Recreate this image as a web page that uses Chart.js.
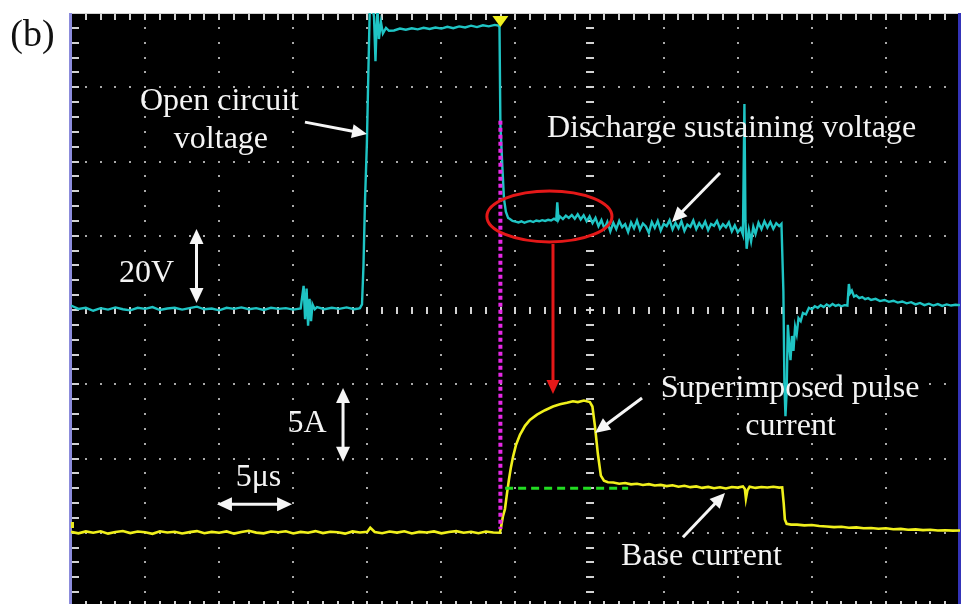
<!DOCTYPE html>
<html>
<head>
<meta charset="utf-8">
<script src="https://cdn.jsdelivr.net/npm/chart.js@4.4.0/dist/chart.umd.min.js"></script>
<style>
  html, body { margin: 0; padding: 0; background: #fff; overflow: hidden; }
  canvas { display: block; }
</style>
</head>
<body>
<canvas id="scope" width="963" height="608"></canvas>
<script>
// oscilloscope capture: time in us (5 us/div), voltage 20 V/div, current 5 A/div

const voltTime = [
  0, 0.5, 1, 1.5, 2, 2.5, 3, 3.5, 4, 4.5,
  5, 5.5, 6, 6.5, 7, 7.5, 8, 8.5, 9, 9.5,
  10, 10.5, 11, 11.5, 12, 12.5, 13, 13.5, 14, 14.5,
  15, 15.5,
  15.7, 15.8, 15.9, 16.0, 16.1, 16.2, 16.3, 16.45,
  16.6, 17.1, 17.6, 18.1, 18.6, 19.1, 19.4,
  19.5, 19.64, 19.74, 19.84, 19.97, 20.08, 20.18,
  20.31, 20.45, 20.55, 20.62, 20.69, 20.78, 20.92, 21.05, 21.26, 21.46,
  21.8, 22.2, 22.6, 23.0, 23.4, 23.8, 24.2, 24.6, 25.0, 25.4,
  25.8, 26.2, 26.6, 27.0, 27.4, 27.8, 28.2, 28.6, 28.85,
  28.92, 28.98, 29.12, 29.22, 29.35, 29.5,
  29.6, 29.8, 30.0, 30.2, 30.4, 30.6, 30.8, 31.0, 31.2, 31.4,
  31.6, 31.8, 32.0, 32.2, 32.4, 32.6, 32.75, 32.82, 32.9, 33.0,
  33.2, 33.4, 33.6, 33.8, 34.0, 34.2, 34.4, 34.6, 34.8, 35.0,
  35.2, 35.4, 35.6, 35.8, 36.0, 36.2, 36.4, 36.6, 36.8, 37.0,
  37.2, 37.4, 37.6, 37.8, 38.0, 38.2, 38.4, 38.6, 38.8, 39.0,
  39.2, 39.4, 39.6, 39.8, 40.0, 40.2, 40.4, 40.6, 40.8, 41.0,
  41.2, 41.4, 41.6, 41.8, 42.0, 42.2, 42.4, 42.6, 42.8, 43.0,
  43.2, 43.4, 43.6, 43.8, 44.0, 44.2, 44.4, 44.6, 44.8, 45.0,
  45.2, 45.35, 45.45, 45.52, 45.6, 45.75, 45.9, 46.05, 46.2, 46.4,
  46.6, 46.8, 47.0, 47.2, 47.4, 47.6, 47.8, 47.95,
  48.08, 48.15, 48.22, 48.3, 48.38, 48.47, 48.56, 48.66, 48.76, 48.87,
  48.98, 49.1, 49.25, 49.4, 49.6, 49.8, 50.0, 50.2, 50.4, 50.6,
  50.8, 51.0, 51.2, 51.4, 51.6, 51.8, 52.0, 52.2, 52.4, 52.5,
  52.58, 52.7, 52.85, 53.0, 53.2, 53.4, 53.6, 53.8, 54.0, 54.3,
  54.6, 54.9, 55.2, 55.5, 55.8, 56.1, 56.4, 56.7, 57.0, 57.3,
  57.6, 57.9, 58.2, 58.5, 58.8, 59.1, 59.4, 59.7, 60.0
];
const voltValues = [
  1.2, 0.3, 0.6, -0.2, 0.5, 0.1, 0.7, 0.2, -0.1, 0.6,
  0.3, 0.8, 0.0, 0.4, 0.6, 0.1, 0.5, 0.9, 0.2, 0.4,
  -0.1, 0.6, 0.3, 0.7, 0.2, 0.5, 0.0, 0.6, 0.3, 0.5,
  0.1, 0.4,
  6.5, -2.5, 5.8, -4.2, 3.0, -3.0, 1.5, 0.2,
  0.8, 0.2, 0.6, 0.3, 0.7, 0.2, 0.4,
  0.5, 1.5, 12, 29, 45, 66, 84,
  83, 79, 67, 76, 81, 73, 77.5, 74.5, 76, 75.2,
  75.3, 75.8, 75.5, 75.9, 75.6, 76.0, 75.7, 76.1, 75.8, 76.3,
  75.9, 76.4, 76.1, 76.6, 76.2, 76.7, 76.4, 76.8, 76.6,
  76.2, 50, 38, 30, 26.5, 24.8,
  24.6, 24.0, 23.8, 23.6, 23.9, 23.5, 23.8, 24.0, 23.7, 24.1,
  23.9, 24.2, 24.0, 24.3, 24.1, 24.6, 24.2, 29.0, 24.4, 25.2,
  24.5, 25.4, 24.8, 25.6, 24.6, 25.8, 24.4, 25.5, 23.9, 25.2,
  23.4, 24.8, 22.6, 24.2, 21.9, 23.8, 21.2, 23.5, 21.8, 24.0,
  22.3, 23.1, 21.0, 23.6, 22.0, 24.1, 21.6, 23.3, 22.5, 20.8,
  23.7, 22.1, 24.0, 21.4, 23.2, 22.6, 24.2, 21.7, 23.5, 22.0,
  23.9, 21.3, 23.0, 22.4, 24.1, 21.8, 23.4, 22.2, 23.8, 21.5,
  23.2, 22.7, 24.0, 21.9, 23.1, 22.3, 23.6, 21.2, 22.8, 20.9,
  22.0, 20.3, 55.5, 24.0, 16.5, 21.5, 18.5, 22.4, 20.5, 23.5,
  21.8, 23.9, 22.2, 23.7, 21.9, 23.4, 22.6, 23.2,
  5, -20, -28.6, -22, -4, -9, -13.5, -7, -11, -4.5,
  -6.5, -2.2, -3.0, -0.8, -1.2, 0.6, 0.2, 1.0, 0.6, 1.3,
  0.8, 1.5, 1.0, 1.6, 1.1, 1.4, 1.0, 1.3, 1.2, 7.0,
  4.5, 5.2, 3.6, 3.9, 3.2, 3.5, 2.9, 3.2, 2.7, 3.0,
  2.4, 2.7, 2.2, 2.5, 2.0, 2.3, 1.8, 2.1, 1.5, 1.9,
  1.3, 1.7, 1.2, 1.6, 1.1, 1.5, 1.2, 1.4, 1.3
];

const currTime = [
  0, 0.5, 1, 1.5, 2, 2.5, 3, 3.5, 4, 4.5,
  5, 5.5, 6, 6.5, 7, 7.5, 8, 8.5, 9, 9.5,
  10, 10.5, 11, 11.5, 12, 12.5, 13, 13.5, 14, 14.5,
  15, 15.5, 16, 16.5, 17, 17.5, 18, 18.5, 19, 19.5,
  20, 20.2, 20.5, 21, 21.5, 22, 22.5, 23, 23.5, 24,
  24.5, 25, 25.5, 26, 26.5, 27, 27.5, 28, 28.5, 28.95,
  29.02, 29.15, 29.29, 29.42, 29.56, 29.69, 29.83, 30.03, 30.3, 30.64,
  30.97, 31.45, 31.99, 32.53, 33.0, 33.47, 33.88, 34.21, 34.62, 35.02,
  35.19, 35.36, 35.56, 35.76, 35.97, 36.24, 36.6, 37.0, 37.4, 37.8,
  38.2, 38.6, 39.0, 39.4, 39.8, 40.2, 40.6, 41.0, 41.4, 41.8,
  42.2, 42.6, 43.0, 43.4, 43.8, 44.2, 44.6, 45.0, 45.35, 45.48,
  45.55, 45.65, 45.8, 46.2, 46.6, 47.0, 47.4, 47.8, 48.0, 48.1,
  48.18, 48.3, 48.6, 49.0, 49.5, 50.0, 50.5, 51.0, 51.5, 52.0,
  52.5, 53.0, 53.5, 54.0, 54.5, 55.0, 55.5, 56.0, 56.5, 57.0,
  57.5, 58.0, 58.5, 59.0, 59.5, 60.0
];
const currValues = [
  0.06, -0.04, 0.09, 0.0, 0.1, -0.06, 0.05, 0.12, -0.02, 0.08,
  0.03, -0.07, 0.1, 0.02, 0.07, -0.05, 0.04, 0.11, -0.03, 0.06,
  0.0, 0.09, -0.06, 0.05, 0.13, 0.01, -0.04, 0.08, 0.03, 0.1,
  -0.05, 0.06, 0.0, 0.11, -0.02, 0.07, 0.03, -0.06, 0.09, 0.02,
  0.06, 0.34, 0.05, -0.03, 0.08, 0.01, 0.1, -0.05, 0.06, 0.02,
  0.09, -0.04, 0.05, 0.11, 0.0, 0.07, -0.03, 0.08, 0.02, 0.0,
  0.35, 1.1, 1.6, 2.6, 3.6, 4.4, 5.1, 5.9, 6.6, 7.2,
  7.6, 7.95, 8.25, 8.5, 8.65, 8.75, 8.85, 8.8, 8.9, 8.8,
  8.5, 7.2, 5.3, 3.85, 3.5, 3.4, 3.38, 3.3, 3.35, 3.26,
  3.3, 3.22, 3.27, 3.18, 3.22, 3.14, 3.2, 3.1, 3.16, 3.07,
  3.12, 3.02, 3.09, 3.0, 3.06, 2.98, 3.08, 3.04, 3.12, 2.95,
  2.3, 2.85, 3.1, 3.02, 3.08, 3.05, 3.1, 3.04, 3.06, 2.0,
  0.9, 0.6, 0.55, 0.55, 0.5, 0.52, 0.45, 0.42, 0.38, 0.4,
  0.34, 0.36, 0.3, 0.32, 0.27, 0.3, 0.24, 0.26, 0.2, 0.23,
  0.18, 0.2, 0.15, 0.17, 0.14, 0.15
];

// base-current reference (green dashes) and trigger cursor (magenta dots)
const baseTime = [29.3, 37.6];
const baseValues = [3.0, 3.0];
const cursorTime = [28.98, 28.98];
const cursorValues = [51, -59];

// annotations, placed in (time, voltage) units
const notes = [
  { text: '(b)', t: -2.6, v: 71.0, dark: true },
  { text: 'Open circuit', t: 10.02, v: 53.9 },
  { text: 'voltage', t: 10.12, v: 43.6 },
  { text: 'Discharge sustaining voltage', t: 44.58, v: 46.6 },
  { text: '20V', t: 5.1, v: 7.5 },
  { text: '5A', t: 15.93, v: -32.9 },
  { text: '5\u03bcs', t: 12.65, v: -47.4 },
  { text: 'Superimposed pulse', t: 48.53, v: -23.4 },
  { text: 'current', t: 48.56, v: -33.7 },
  { text: 'Base current', t: 42.55, v: -68.7 }
];
const pointers = [
  { t1: 15.79, v1: 50.6, t2: 19.98, v2: 47.4, both: false },
  { t1: 43.8, v1: 36.9, t2: 40.56, v2: 23.7, both: false },
  { t1: 38.54, v1: -23.7, t2: 35.37, v2: -33.1, both: false },
  { t1: 41.3, v1: -61.2, t2: 44.14, v2: -49.3, both: false },
  { t1: 8.47, v1: 21.8, t2: 8.47, v2: 1.9, both: true },
  { t1: 18.36, v1: -21.0, t2: 18.36, v2: -40.9, both: true },
  { t1: 9.85, v1: -52.3, t2: 14.92, v2: -52.3, both: true }
];
const zoomRing = { t: 32.29, v: 25.2, dt: 4.22, dv: 6.87 };
const zoomArrow = { t: 32.53, v1: 17.8, v2: -22.6 };

const pairs = (xs, ys) => xs.map((x, i) => ({ x, y: ys[i] }));

function drawArrow(ctx, x1, y1, x2, y2, both, len, half) {
  const a = Math.atan2(y2 - y1, x2 - x1);
  const c = Math.cos(a), s = Math.sin(a);
  const head = (x, y, dir) => {
    ctx.beginPath();
    ctx.moveTo(x, y);
    ctx.lineTo(x - len * dir * c + half * s, y - len * dir * s - half * c);
    ctx.lineTo(x - len * dir * c - half * s, y - len * dir * s + half * c);
    ctx.closePath();
    ctx.fill();
  };
  const sx = both ? x1 + (len - 3) * c : x1, sy = both ? y1 + (len - 3) * s : y1;
  ctx.beginPath();
  ctx.moveTo(sx, sy);
  ctx.lineTo(x2 - (len - 3) * c, y2 - (len - 3) * s);
  ctx.stroke();
  head(x2, y2, 1);
  if (both) head(x1, y1, -1);
}

const scopeGrid = {
  id: 'scopeGrid',
  beforeDatasetsDraw(chart) {
    const { ctx, chartArea: a, scales } = chart;
    const xs = scales.x, ys = scales.yV;
    const dx = xs.getPixelForValue(5) - xs.getPixelForValue(0);
    const dy = ys.getPixelForValue(0) - ys.getPixelForValue(20);
    const cx = xs.getPixelForValue(35), cy = ys.getPixelForValue(0);
    ctx.save();
    ctx.fillStyle = '#000';
    ctx.fillRect(a.left, a.top, a.right - a.left, a.bottom - a.top);

    // dotted division lines
    ctx.fillStyle = '#a9a9a9';
    for (let i = 1; i < 12; i++) {
      if (i === 7) continue;
      const x = Math.round(a.left + i * dx);
      for (let k = 1; k < 40; k++) ctx.fillRect(x - 1, Math.round(a.top + k * dy / 5) - 1, 2, 2);
    }
    for (let j = 1; j < 8; j++) {
      if (j === 4) continue;
      const y = Math.round(a.top + j * dy);
      for (let k = 1; k < 60; k++) ctx.fillRect(Math.round(a.left + k * dx / 5) - 1, y - 1, 2, 2);
    }

    // centre axes with minor ticks
    ctx.fillStyle = '#d2d2d2';
    for (let k = 1; k < 40; k++) ctx.fillRect(Math.round(cx) - 4, Math.round(a.top + k * dy / 5) - 1, 8, 2);
    for (let k = 1; k < 60; k++) ctx.fillRect(Math.round(a.left + k * dx / 5) - 1, Math.round(cy) - 3, 2, 7);

    // edge ticks
    for (let k = 1; k < 40; k++) ctx.fillRect(a.left + 1, Math.round(a.top + k * dy / 5) - 1, 7, 2);
    for (let k = 1; k < 60; k++) {
      const x = Math.round(a.left + k * dx / 5) - 1;
      ctx.fillRect(x, a.top, 2, 7);
      ctx.fillRect(x, a.bottom - 6, 2, 6);
    }
    ctx.fillRect(a.left, a.top, a.right - a.left, 1);

    // frame edges
    ctx.fillStyle = '#8c8cdc';
    ctx.fillRect(a.left - 2, a.top, 3, a.bottom - a.top);
    ctx.fillStyle = '#3434b8';
    ctx.fillRect(a.right - 2, a.top, 3, a.bottom - a.top);

    // channel ground marker
    ctx.fillStyle = '#e8e820';
    ctx.fillRect(a.left, Math.round(scales.yI.getPixelForValue(0.5)) - 3, 3, 6);
    ctx.restore();
  }
};

const scopeNotes = {
  id: 'scopeNotes',
  afterDatasetsDraw(chart) {
    const { ctx, scales } = chart;
    const px = t => scales.x.getPixelForValue(t);
    const py = v => scales.yV.getPixelForValue(v);
    ctx.save();

    // trigger marker
    const tx = px(cursorTime[0]), top = chart.chartArea.top;
    ctx.fillStyle = '#f0f020';
    ctx.beginPath();
    ctx.moveTo(tx - 8, top + 3);
    ctx.lineTo(tx + 8, top + 3);
    ctx.lineTo(tx, top + 14);
    ctx.closePath();
    ctx.fill();

    // red zoom ring and arrow
    ctx.strokeStyle = '#e41818';
    ctx.fillStyle = '#e41818';
    ctx.lineWidth = 3;
    ctx.beginPath();
    ctx.ellipse(px(zoomRing.t), py(zoomRing.v),
      px(zoomRing.t + zoomRing.dt) - px(zoomRing.t),
      py(zoomRing.v - zoomRing.dv) - py(zoomRing.v), 0, 0, Math.PI * 2);
    ctx.stroke();
    drawArrow(ctx, px(zoomArrow.t), py(zoomArrow.v1), px(zoomArrow.t), py(zoomArrow.v2), false, 14, 6.5);

    // white pointers
    ctx.strokeStyle = '#f6f6f6';
    ctx.fillStyle = '#f6f6f6';
    ctx.lineWidth = 3;
    pointers.forEach(p => drawArrow(ctx, px(p.t1), py(p.v1), px(p.t2), py(p.v2), p.both, 15, 7));

    // labels
    ctx.textAlign = 'center';
    ctx.textBaseline = 'alphabetic';
    notes.forEach(n => {
      ctx.font = (n.dark ? '38px' : '32px') + ' "Liberation Serif", "Times New Roman", serif';
      ctx.fillStyle = n.dark ? '#111' : '#f4f4f4';
      ctx.fillText(n.text, px(n.t), py(n.v));
    });
    ctx.restore();
  }
};

new Chart(document.getElementById('scope'), {
  type: 'line',
  data: {
    datasets: [
      { data: pairs(cursorTime, cursorValues), yAxisID: 'yV', borderColor: '#e628e6', borderWidth: 4, borderDash: [4, 3] },
      { data: pairs(baseTime, baseValues), yAxisID: 'yI', borderColor: '#22dc22', borderWidth: 3, borderDash: [8, 5] },
      { data: pairs(voltTime, voltValues), yAxisID: 'yV', borderColor: '#1fc4c4', borderWidth: 2.4 },
      { data: pairs(currTime, currValues), yAxisID: 'yI', borderColor: '#f0f01c', borderWidth: 2.6 }
    ]
  },
  options: {
    responsive: false,
    animation: false,
    devicePixelRatio: 1,
    elements: { point: { radius: 0 }, line: { tension: 0 } },
    layout: { padding: { left: 71, top: 13, right: 3, bottom: 1 } },
    plugins: { legend: { display: false }, tooltip: { enabled: false } },
    scales: {
      x: { type: 'linear', min: 0, max: 60, display: false },
      yV: { type: 'linear', min: -80, max: 80, display: false },
      yI: { type: 'linear', min: -5, max: 35, display: false }
    }
  },
  plugins: [scopeGrid, scopeNotes]
});
</script>
</body>
</html>
